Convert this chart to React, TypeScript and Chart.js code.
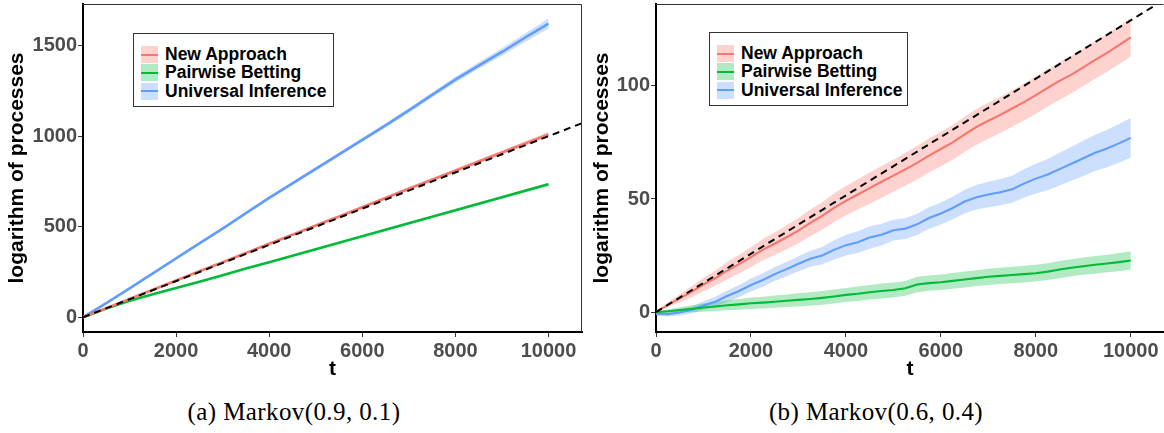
import { useEffect, useRef } from "react";
import { Chart, registerables } from "chart.js";
Chart.register(...registerables);

const SERIES_NAMES = ["New Approach", "Pairwise Betting", "Universal Inference"];
const LINE_COLORS = ["#F8766D", "#00BA38", "#619CFF"];
const BAND_COLORS = ["rgba(248,118,109,0.33)", "rgba(0,186,56,0.30)", "rgba(97,156,255,0.32)"];

// ---------- Panel (a): Markov(0.9, 0.1) ----------
const A_T = [0, 500, 1000, 1500, 2000, 2500, 3000, 3500, 4000, 4500, 5000, 5500, 6000, 6500, 7000, 7500, 8000, 8500, 9000, 9500, 10000];
const A_NEW = [0, 51, 102, 152, 203, 254, 304, 355, 406, 456, 507, 557, 608, 659, 710, 760, 810, 860, 910, 960, 1010];
const A_NEW_HW = [0, 2, 3, 3, 4, 4, 5, 5, 6, 6, 7, 7, 8, 8, 9, 9, 10, 10, 11, 12, 13];
const A_PAIR = [0, 48, 92, 128, 162, 197, 233, 269, 304, 340, 376, 412, 448, 484, 520, 555, 591, 627, 663, 699, 735];
const A_PAIR_HW = [0, 1, 2, 2, 3, 3, 3, 4, 4, 4, 5, 5, 5, 6, 6, 6, 7, 7, 7, 8, 8];
const A_UNIV = [0, 78, 160, 243, 326, 408, 490, 575, 660, 740, 820, 900, 980, 1060, 1143, 1228, 1312, 1390, 1465, 1545, 1622];
const A_UNIV_HW = [0, 3, 4, 5, 6, 6, 7, 7, 8, 9, 10, 10, 11, 12, 13, 14, 16, 18, 21, 24, 28];
const A_X_TICKS = [0, 2000, 4000, 6000, 8000, 10000];
const A_Y_TICKS = [0, 500, 1000, 1500];
const A_REF_SLOPE = 0.1;
const A_CAPTION = "(a) Markov(0.9, 0.1)";

// ---------- Panel (b): Markov(0.6, 0.4) ----------
const B_T = [0, 250, 500, 750, 1000, 1250, 1500, 1750, 2000, 2250, 2500, 2750, 3000, 3250, 3500, 3750, 4000, 4250, 4500, 4750, 5000, 5250, 5500, 5750, 6000, 6250, 6500, 6750, 7000, 7250, 7500, 7750, 8000, 8250, 8500, 8750, 9000, 9250, 9500, 9750, 10000];
const B_NEW = [0, 3.2, 6.1, 9.0, 12.2, 15.0, 18.3, 21.2, 24.3, 27.6, 30.2, 33.1, 36.0, 39.4, 42.5, 46.1, 49.2, 52.0, 54.8, 57.6, 60.3, 63.1, 66.0, 69.2, 72.1, 75.0, 78.6, 81.9, 84.6, 87.2, 90.0, 92.8, 95.9, 99.1, 102.2, 105.0, 108.2, 111.5, 114.6, 118.0, 121.5];
const B_NEW_HW = [0.2, 1.0, 1.8, 2.4, 3.0, 3.4, 3.8, 4.1, 4.4, 4.7, 5.0, 5.3, 5.6, 5.9, 6.1, 6.3, 6.5, 6.7, 6.9, 7.0, 7.1, 7.3, 7.4, 7.5, 7.6, 7.7, 7.8, 7.9, 8.0, 8.0, 8.1, 8.1, 8.2, 8.2, 8.3, 8.3, 8.3, 8.4, 8.4, 8.4, 8.4];
const B_PAIR = [0, 0.4, 0.9, 1.4, 2.0, 2.5, 3.0, 3.4, 3.9, 4.2, 4.6, 5.0, 5.4, 5.8, 6.3, 6.9, 7.6, 8.1, 8.8, 9.3, 9.8, 10.5, 12.2, 12.8, 13.2, 13.8, 14.4, 15.0, 15.6, 16.0, 16.4, 16.8, 17.2, 17.9, 18.8, 19.6, 20.3, 20.9, 21.5, 22.1, 22.8];
const B_PAIR_HW = [0.3, 0.8, 1.2, 1.5, 1.8, 2.0, 2.2, 2.4, 2.5, 2.6, 2.7, 2.8, 2.9, 3.0, 3.0, 3.1, 3.1, 3.2, 3.2, 3.3, 3.3, 3.3, 3.4, 3.4, 3.4, 3.5, 3.5, 3.5, 3.6, 3.6, 3.6, 3.7, 3.7, 3.7, 3.8, 3.8, 3.8, 3.9, 3.9, 4.0, 4.0];
const B_UNIV = [-0.8, -0.9, -0.2, 1.0, 2.9, 4.6, 7.1, 9.3, 12.0, 14.2, 16.8, 19.0, 21.4, 23.6, 25.0, 27.5, 29.6, 30.9, 33.0, 34.2, 36.2, 36.9, 38.8, 41.6, 43.6, 46.0, 48.9, 50.8, 52.0, 53.0, 54.3, 56.8, 59.0, 60.8, 63.2, 65.6, 68.0, 70.4, 72.3, 74.6, 77.0];
const B_UNIV_HW = [0.6, 1.0, 1.3, 1.6, 1.9, 2.2, 2.5, 2.7, 2.9, 3.0, 3.1, 3.2, 3.3, 3.5, 3.8, 4.3, 4.6, 4.8, 5.0, 4.8, 4.6, 4.6, 4.7, 4.8, 4.9, 5.0, 5.2, 5.4, 5.6, 5.8, 6.0, 6.3, 6.6, 6.9, 7.2, 7.5, 7.8, 8.0, 8.3, 8.6, 8.8];
const B_X_TICKS = [0, 2000, 4000, 6000, 8000, 10000];
const B_Y_TICKS = [0, 50, 100];
const B_REF_SLOPE = 0.0129;
const B_CAPTION = "(b) Markov(0.6, 0.4)";

const X_TITLE = "t";
const Y_TITLE = "logarithm of processes";

const SANS = "'Liberation Sans', Arial, Helvetica, sans-serif";

type PanelSpec = {
  t: number[];
  means: number[][];
  halfWidths: number[][];
  xTicks: number[];
  yTicks: number[];
  refSlope: number;
  xMax: number;
  yMin: number;
  yMax: number;
  width: number;
  height: number;
  yAxisWidth: number;
  yTitlePad: number;
  padRight: number;
  lineWidth: number;
  drawRightFrame: boolean;
};

const framePlugin = {
  id: "frame",
  afterDraw(chart: any, _args: any, opts: any) {
    const { ctx, chartArea } = chart;
    const { left, top, right, bottom } = chartArea;
    ctx.save();
    ctx.strokeStyle = "#333";
    ctx.lineWidth = 1;
    ctx.beginPath();
    ctx.moveTo(left, top + 0.5);
    ctx.lineTo(right - 0.5, top + 0.5);
    if (opts && opts.right) ctx.lineTo(right - 0.5, bottom);
    ctx.stroke();
    ctx.restore();
  },
};

function PanelChart({ spec }: { spec: PanelSpec }) {
  const ref = useRef<HTMLCanvasElement>(null);
  useEffect(() => {
    const canvas = ref.current!;
    const pts = (ys: number[]) => spec.t.map((t, i) => ({ x: t, y: ys[i] }));
    const datasets: any[] = [
      {
        label: "reference",
        data: [
          { x: 0, y: 0 },
          { x: spec.xMax, y: spec.refSlope * spec.xMax },
        ],
        borderColor: "#000",
        borderWidth: 2,
        borderDash: [7, 5],
        pointRadius: 0,
        fill: false,
      },
    ];
    spec.means.forEach((m, i) => {
      datasets.push({
        label: SERIES_NAMES[i],
        data: pts(m),
        borderColor: LINE_COLORS[i],
        borderWidth: spec.lineWidth,
        pointRadius: 0,
        fill: false,
      });
    });
    spec.means.forEach((m, i) => {
      const hw = spec.halfWidths[i];
      datasets.push({
        label: SERIES_NAMES[i] + " upper",
        data: pts(m.map((v, j) => v + hw[j])),
        borderColor: "rgba(0,0,0,0)",
        borderWidth: 0,
        pointRadius: 0,
        backgroundColor: BAND_COLORS[i],
        fill: "+1",
      });
      datasets.push({
        label: SERIES_NAMES[i] + " lower",
        data: pts(m.map((v, j) => v - hw[j])),
        borderColor: "rgba(0,0,0,0)",
        borderWidth: 0,
        pointRadius: 0,
        fill: false,
      });
    });

    const tickFont = { family: SANS, size: 20, weight: "bold" as const };
    const titleFont = { family: SANS, size: 21, weight: "bold" as const };

    const chart = new Chart(canvas, {
      type: "line",
      data: { datasets },
      plugins: [framePlugin],
      options: {
        animation: false,
        responsive: false,
        maintainAspectRatio: false,
        layout: { padding: { left: 0, top: 4, right: spec.padRight, bottom: 8 } },
        elements: { line: { tension: 0 }, point: { radius: 0 } },
        plugins: {
          legend: { display: false },
          tooltip: { enabled: false },
          filler: { propagate: false },
          frame: { right: spec.drawRightFrame },
        } as any,
        scales: {
          x: {
            type: "linear",
            min: 0,
            max: spec.xMax,
            afterBuildTicks: (s: any) => {
              s.ticks = spec.xTicks.map((v) => ({ value: v }));
            },
            afterFit: (s: any) => {
              s.height = 50;
              s.paddingLeft = 0;
              s.paddingRight = 0;
            },
            ticks: {
              font: tickFont,
              color: "#4D4D4D",
              padding: 2,
              maxRotation: 0,
              autoSkip: false,
              callback: (v: any) => String(v),
            },
            grid: { drawOnChartArea: false, drawTicks: true, tickLength: 5, color: "#333", tickWidth: 1 },
            border: { display: true, color: "#000", width: 2 },
            title: { display: true, text: X_TITLE, font: titleFont, color: "#000", padding: 0 },
          },
          y: {
            type: "linear",
            min: spec.yMin,
            max: spec.yMax,
            afterBuildTicks: (s: any) => {
              s.ticks = spec.yTicks.map((v) => ({ value: v }));
            },
            afterFit: (s: any) => {
              s.width = spec.yAxisWidth;
              s.paddingTop = 0;
              s.paddingBottom = 0;
            },
            ticks: {
              font: tickFont,
              color: "#4D4D4D",
              padding: 1,
              autoSkip: false,
              callback: (v: any) => String(v),
            },
            grid: { drawOnChartArea: false, drawTicks: true, tickLength: 5, color: "#333", tickWidth: 1 },
            border: { display: true, color: "#000", width: 2 },
            title: {
              display: true,
              text: Y_TITLE,
              font: titleFont,
              color: "#000",
              padding: { top: spec.yTitlePad, bottom: 0 },
            },
          },
        },
      } as any,
    });
    return () => chart.destroy();
  }, [spec]);
  return (
    <canvas
      ref={ref}
      width={spec.width}
      height={spec.height}
      style={{ display: "block", width: spec.width, height: spec.height }}
    />
  );
}

function Legend({ left, top, width }: { left: number; top: number; width: number }) {
  return (
    <div
      style={{
        position: "absolute",
        left,
        top,
        width,
        height: 74,
        boxSizing: "border-box",
        border: "1px solid #333",
        background: "#fff",
      }}
    >
      {SERIES_NAMES.map((n, i) => (
        <div
          key={n}
          style={{
            position: "absolute",
            left: 7,
            top: 12 + i * 18.35,
            height: 17,
            display: "flex",
            alignItems: "center",
          }}
        >
          <div style={{ width: 17, height: 17, background: BAND_COLORS[i], position: "relative" }}>
            <div
              style={{
                position: "absolute",
                left: 0,
                right: 0,
                top: 7.5,
                height: 2,
                background: LINE_COLORS[i],
              }}
            />
          </div>
          <span
            style={{
              marginLeft: 7,
              fontFamily: SANS,
              fontWeight: "bold",
              fontSize: 17.5,
              lineHeight: "17px",
              color: "#000",
              whiteSpace: "nowrap",
            }}
          >
            {n}
          </span>
        </div>
      ))}
    </div>
  );
}

function Caption({ center, text }: { center: number; text: string }) {
  return (
    <div
      style={{
        position: "absolute",
        left: center - 200,
        top: 400,
        width: 400,
        textAlign: "center",
        fontFamily: "'Liberation Serif', 'Times New Roman', serif",
        fontSize: 25,
        lineHeight: "24px",
        letterSpacing: 0.4,
        color: "#000",
        whiteSpace: "nowrap",
      }}
    >
      {text}
    </div>
  );
}

const SPEC_A: PanelSpec = {
  t: A_T,
  means: [A_NEW, A_PAIR, A_UNIV],
  halfWidths: [A_NEW_HW, A_PAIR_HW, A_UNIV_HW],
  xTicks: A_X_TICKS,
  yTicks: A_Y_TICKS,
  refSlope: A_REF_SLOPE,
  xMax: 10720,
  yMin: -81,
  yMax: 1730,
  width: 590,
  height: 390,
  yAxisWidth: 83,
  yTitlePad: 5,
  padRight: 8,
  lineWidth: 2.6,
  drawRightFrame: true,
};

const SPEC_B: PanelSpec = {
  t: B_T,
  means: [B_NEW, B_PAIR, B_UNIV],
  halfWidths: [B_NEW_HW, B_PAIR_HW, B_UNIV_HW],
  xTicks: B_X_TICKS,
  yTicks: B_Y_TICKS,
  refSlope: B_REF_SLOPE,
  xMax: 10700,
  yMin: -8.8,
  yMax: 136.2,
  width: 574,
  height: 390,
  yAxisWidth: 66,
  yTitlePad: 0,
  padRight: 0,
  lineWidth: 2.1,
  drawRightFrame: false,
};

export default function App() {
  return (
    <div
      style={{
        position: "fixed",
        left: 0,
        top: 0,
        width: 1164,
        height: 433,
        overflow: "hidden",
        background: "#fff",
      }}
    >
      <div style={{ position: "absolute", left: 0, top: 0 }}>
        <PanelChart spec={SPEC_A} />
      </div>
      <div style={{ position: "absolute", left: 590, top: 0 }}>
        <PanelChart spec={SPEC_B} />
      </div>
      <Legend left={133} top={33} width={201} />
      <Legend left={709} top={32} width={199} />
      <Caption center={294} text={A_CAPTION} />
      <Caption center={876} text={B_CAPTION} />
    </div>
  );
}
